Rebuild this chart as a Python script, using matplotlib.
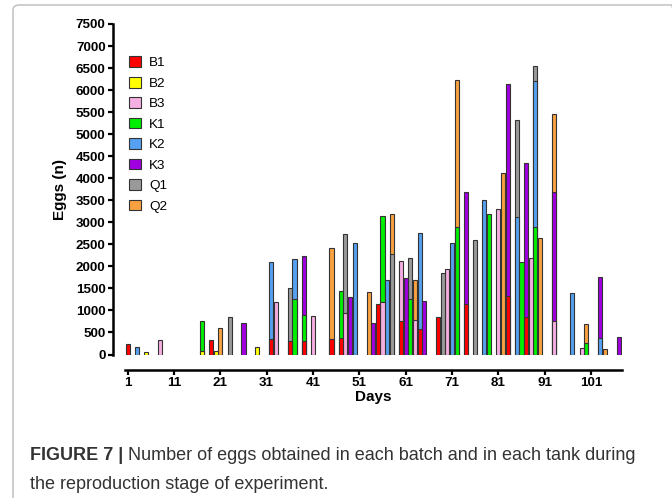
import matplotlib.pyplot as plt
from matplotlib.patches import Patch, FancyBboxPatch

plt.rcParams['font.family'] = ['Liberation Sans', 'DejaVu Sans']

# eggs per batch, one list of days and one of egg counts per tank
tanks = ["B1", "B2", "B3", "K1", "K2", "K3", "Q1", "Q2"]
colors = ["#ff0000", "#ffff00", "#f5aee2", "#00ee00", "#55a0f0", "#a000e0", "#9a9a9a", "#f9a040"]

B1_days = [1, 19, 32, 36, 39, 45, 47, 55, 60, 64, 68, 74, 83, 87]
B1_eggs = [240, 330, 350, 315, 300, 350, 370, 1150, 760, 570, 840, 1150, 1320, 850]
B2_days = [5, 17, 20, 29]
B2_eggs = [50, 90, 85, 165]
B3_days = [8, 33, 41, 48, 56, 60, 63, 70, 81, 88, 93, 99]
B3_eggs = [320, 1200, 880, 940, 1200, 2120, 780, 1940, 3310, 2200, 750, 140]
K1_days = [17, 37, 39, 47, 56, 62, 72, 79, 86, 89, 100]
K1_eggs = [750, 1250, 890, 1430, 3150, 1260, 2900, 3190, 2110, 2890, 250]
K2_days = [3, 32, 37, 50, 57, 64, 71, 78, 85, 89, 97, 103]
K2_eggs = [180, 2100, 2160, 2520, 1680, 2750, 2530, 3510, 3130, 6210, 1400, 370]
K3_days = [26, 39, 49, 54, 61, 65, 74, 83, 87, 93, 103, 107]
K3_eggs = [710, 2240, 1300, 720, 1730, 1210, 3690, 6130, 4350, 3680, 1770, 400]
Q1_days = [23, 36, 48, 58, 62, 69, 76, 85, 89]
Q1_eggs = [850, 1500, 2740, 2280, 2180, 1850, 2600, 5320, 6550]
Q2_days = [21, 45, 53, 58, 63, 72, 82, 90, 93, 100, 104]
Q2_eggs = [600, 2420, 1420, 3180, 1680, 6220, 4130, 2640, 5450, 690, 120]

all_days = [B1_days, B2_days, B3_days, K1_days, K2_days, K3_days, Q1_days, Q2_days]
all_eggs = [B1_eggs, B2_eggs, B3_eggs, K1_eggs, K2_eggs, K3_eggs, Q1_eggs, Q2_eggs]

fig = plt.figure(figsize=(6.72, 4.98), dpi=100)
ax = fig.add_axes([125 / 672, 1 - 354.5 / 498, 497 / 672, 330.5 / 498])

# bars of the same day overlap, the taller ones sit behind
for name, col, days, eggs in zip(tanks, colors, all_days, all_eggs):
    bars = ax.bar(days, eggs, width=0.88, color=col, edgecolor="#333333", linewidth=0.8)
    for patch, val in zip(bars, eggs):
        patch.set_zorder(10000 - val)

ax.set_xlim(0.42, 107.7)
ax.set_ylim(0, 7500)
ax.set_xticks(range(1, 102, 10))
ax.set_yticks(range(0, 7501, 500))

for s in ["top", "right"]:
    ax.spines[s].set_visible(False)
ax.spines["left"].set_position(("outward", 9))
ax.spines["bottom"].set_position(("outward", 11))
ax.spines["left"].set_linewidth(1.8)
ax.spines["bottom"].set_linewidth(1.8)
ax.tick_params(width=1.6, length=3.5, labelsize=9.6, pad=1.5)
for lab in ax.get_xticklabels() + ax.get_yticklabels():
    lab.set_fontweight("bold")

ax.set_xlabel("Days", fontsize=11, fontweight="bold", labelpad=1)
ax.set_ylabel("Eggs (n)", fontsize=11, fontweight="bold", labelpad=6)

handles = [Patch(facecolor=c, edgecolor="#333333", linewidth=0.8) for c in colors]
ax.legend(handles, tanks, loc="upper left", bbox_to_anchor=(124 / 672, 1 - 51 / 498),
          bbox_transform=fig.transFigure, frameon=False, fontsize=9.7,
          handlelength=0.85, handleheight=0.85, handletextpad=0.6, labelspacing=0.55,
          borderaxespad=0)

# frame and caption
fig.patches.append(FancyBboxPatch((13 / 672, -0.05), 0.99, 1.04, boxstyle="round,pad=0,rounding_size=0.01",
                                  transform=fig.transFigure, fill=False, edgecolor="#bbbbbb", linewidth=1))
head = fig.text(30 / 672, 1 - 455 / 498, "FIGURE 7 |", fontsize=13, fontweight="bold", color="#333333", va="center")
renderer = fig.canvas.get_renderer()
head_end = head.get_window_extent(renderer).x1 / 672
fig.text(head_end + 5 / 672, 1 - 455 / 498, "Number of eggs obtained in each batch and in each tank during",
         fontsize=13, color="#333333", va="center")
fig.text(30 / 672, 1 - 484 / 498, "the reproduction stage of experiment.", fontsize=13, color="#333333", va="center")

fig.savefig("out.png", dpi=100)
